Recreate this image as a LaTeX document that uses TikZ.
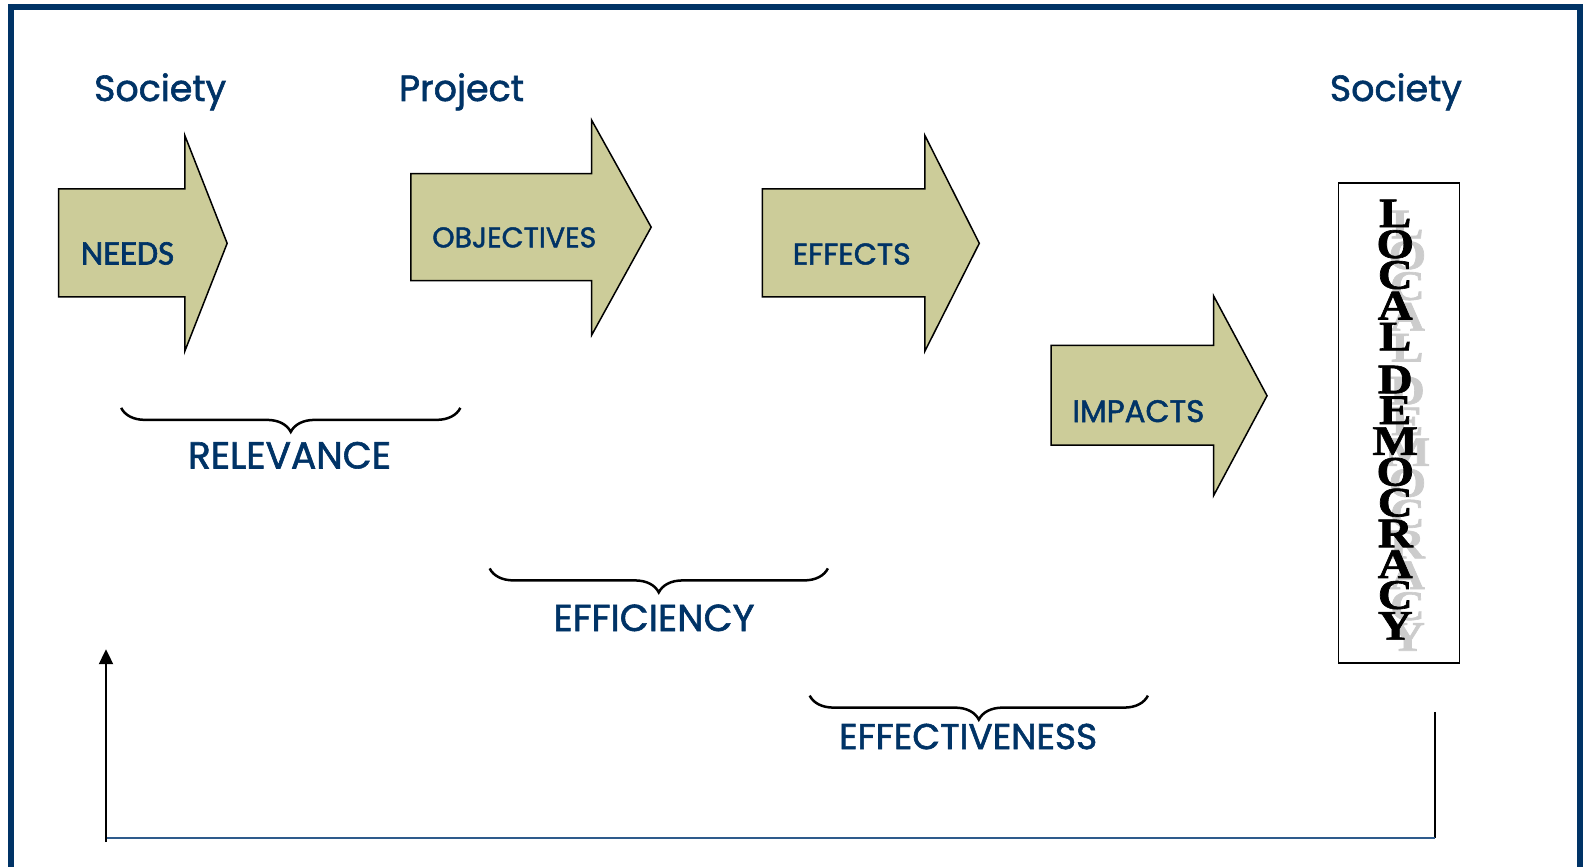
\documentclass[tikz,border=0pt]{standalone}
\usepackage{fontspec}
\newfontfamily\hf[FakeBold=1.6]{Poppins}
\newfontfamily\calib[FakeBold=1.8]{Carlito}
\newfontfamily\tms[BoldFeatures={FakeBold=1.5}]{Liberation Serif}
\usetikzlibrary{decorations.pathreplacing,arrows.meta}
\definecolor{navy}{HTML}{003366}
\definecolor{khaki}{HTML}{CCCC99}
\definecolor{linkblue}{HTML}{2E5B8C}
\newcommand\fitw[2]{\resizebox{#1pt}{!}{#2}}
\tikzset{
  arrowshape/.style={draw=black, line width=1.5pt, fill=khaki, line join=miter},
  lbl/.style={anchor=base west, inner sep=0pt, text=navy, font=\hf},
  bracestyle/.style={draw=black, line width=2.5pt, decorate, decoration={brace, amplitude=24pt}},
  fbline/.style={line width=2pt},
  ldletter/.style={anchor=base, inner sep=0pt, font=\tms\bfseries\fontsize{42}{42}\selectfont},
}
\begin{document}
\begin{tikzpicture}[x=1.0096pt,y=-1.0096pt]
\useasboundingbox (0pt,0pt) rectangle (1583pt,-867pt);
\clip (0pt,0pt) rectangle (1583pt,-867pt);
% frame
\draw[navy, line width=6pt] (11pt,-880pt) -- (11pt,-7pt) -- (1580pt,-7pt) -- (1580pt,-880pt);

% headings
\node[lbl] (soc1) at (93,100) {\fitw{132}{Society}};
\node[lbl] (proj) at (395,100) {\fitw{125}{Project}};
\node[lbl] (soc2) at (1317,100) {\fitw{132}{Society}};

% arrows
\draw[arrowshape] (58,187) -- (183,187) -- (183,134) -- (225,241) -- (183,348) -- (183,294) -- (58,294) -- cycle;
\draw[arrowshape] (407,172) -- (586,172) -- (586,119) -- (645,225) -- (586,332) -- (586,278) -- (407,278) -- cycle;
\draw[arrowshape] (755,187) -- (916,187) -- (916,134) -- (970,241) -- (916,348) -- (916,294) -- (755,294) -- cycle;
\draw[arrowshape] (1041,342) -- (1202,342) -- (1202,293) -- (1255,392) -- (1202,491) -- (1202,441) -- (1041,441) -- cycle;

\node[lbl] (needs) at (80,262) {\fitw{93}{\calib NEEDS}};
\node[lbl] (obj) at (428,245) {\fitw{164}{OBJECTIVES}};
\node[lbl] (eff) at (785,262) {\fitw{118}{EFFECTS}};
\node[lbl] (imp) at (1062,418) {\fitw{132}{IMPACTS}};

% braces
\coordinate (b1r) at (456,404); \coordinate (b1l) at (120,404);
\coordinate (b2r) at (820,563); \coordinate (b2l) at (485,563);
\coordinate (b3r) at (1137,689); \coordinate (b3l) at (802,689);
\draw[bracestyle] (b1r) -- (b1l);
\draw[bracestyle] (b2r) -- (b2l);
\draw[bracestyle] (b3r) -- (b3l);
\node[lbl] (rel) at (186,464) {\fitw{203}{RELEVANCE}};
\node[lbl] (effi) at (548,625) {\fitw{201}{EFFICIENCY}};
\node[lbl] (effe) at (831,742) {\fitw{258}{EFFECTIVENESS}};

% local democracy box
\node[draw=black, line width=1.3pt, minimum width=121pt, minimum height=480pt, inner sep=0pt] (ld) at (1386,419) {};
\foreach \ch/\yb [count=\n] in {L/225, O/255.5, C/286, A/316.5, L/347, D/389.5, E/420, M/450.5, O/481, C/511.5, R/542, A/572.5, C/603, Y/633.5}{
  \node[ldletter, text=black!20] (lds\n) at (1394,\yb+11) {\scalebox{1.15}[1]{\ch}};
}
\foreach \ch/\yb [count=\n] in {L/225, O/255.5, C/286, A/316.5, L/347, D/389.5, E/420, M/450.5, O/481, C/511.5, R/542, A/572.5, C/603, Y/633.5}{
  \node[ldletter, text=black] (ldl\n) at (1382,\yb) {\scalebox{1.15}[1]{\ch}};
}

% feedback loop
\coordinate (fbs) at (1421,705);
\coordinate (fbc1) at (1421,830);
\coordinate (fbc2) at (105,830);
\coordinate (fbc3) at (105,834);
\coordinate (fbe) at (105,643);
\draw[fbline, black] (fbs) -- (fbc1);
\draw[fbline, linkblue] (fbc1) -- (fbc2);
\draw[fbline, black, -{Triangle[length=15pt,width=14pt]}] (fbc3) -- (fbe);
\end{tikzpicture}
\end{document}
